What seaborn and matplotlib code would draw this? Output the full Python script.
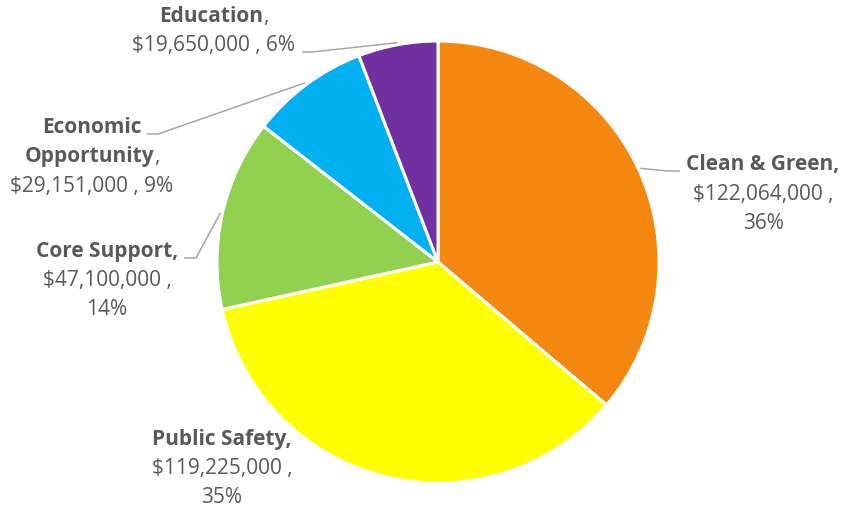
import matplotlib
matplotlib.use("Agg")
import matplotlib.pyplot as plt
import seaborn as sns
import numpy as np

# Budget by program area
categories = ["Clean & Green", "Public Safety", "Core Support",
              "Economic Opportunity", "Education"]
amounts = [122064000, 119225000, 47100000, 29151000, 19650000]
colors = ["#F4870F", "#FFFF00", "#92D050", "#00B0F0", "#7030A0"]

sns.set_theme(style="white")
plt.rcParams["font.family"] = ["Open Sans", "DejaVu Sans"]

W, H = 844, 509
TEXT = "#595959"
LEADER = "#A6A6A6"
FS = 15

fig = plt.figure(figsize=(W / 100, H / 100), dpi=100)
ax = fig.add_axes([0, 0, 1, 1])

cx, cy, R = 438, H - 262, 221
wedges, _ = ax.pie(amounts, colors=sns.color_palette(colors), startangle=90,
                   counterclock=False, center=(cx, cy), radius=R,
                   wedgeprops=dict(edgecolor="white", linewidth=2.2))
ax.set_xlim(0, W)
ax.set_ylim(0, H)
ax.set_aspect("equal")
ax.axis("off")

total = sum(amounts)
pct = [f"{round(v / total * 100):d}%" for v in amounts]
money = [f"${v:,}" for v in amounts]

# label lines: list of lines, each a list of (text, bold) segments
labels = {
    "Clean & Green": [[("Clean & Green,", True)],
                      [(money[0] + " ,", False)],
                      [(pct[0], False)]],
    "Public Safety": [[("Public Safety,", True)],
                      [(money[1] + " ,", False)],
                      [(pct[1], False)]],
    "Core Support": [[("Core Support,", True)],
                     [(money[2] + " ,", False)],
                     [(pct[2], False)]],
    "Economic Opportunity": [[("Economic", True)],
                             [("Opportunity", True), (",", False)],
                             [(money[3] + " , " + pct[3], False)]],
    "Education": [[("Education", True), (",", False)],
                  [(money[4] + " , " + pct[4], False)]],
}

# label placement (center x, baselines from top) and leader path
layout = {
    "Clean & Green": dict(x=763, base=[170, 200, 229],
                          path=[(680, 171), (668, 171)]),
    "Public Safety": dict(x=222, base=[445, 474, 503], path=None),
    "Core Support": dict(x=107, base=[257, 286, 315],
                         path=[(184, 258), (196, 258)]),
    "Economic Opportunity": dict(x=92, base=[133, 162, 192],
                                 path=[(147, 134), (158, 134)]),
    "Education": dict(x=214, base=[22, 51],
                      path=[(302, 52), (312, 52)]),
}

renderer = fig.canvas.get_renderer()


def draw_line(segments, xc, ybase):
    arts = []
    for s, bold in segments:
        t = ax.text(0, H - ybase, s, fontsize=FS, color=TEXT,
                    fontweight="bold" if bold else "normal",
                    ha="left", va="baseline")
        arts.append(t)
    widths = [a.get_window_extent(renderer).width for a in arts]
    x = xc - sum(widths) / 2
    for a, w in zip(arts, widths):
        a.set_x(x)
        x += w


for name, wedge in zip(categories, wedges):
    lay = layout[name]
    for line, yb in zip(labels[name], lay["base"]):
        draw_line(line, lay["x"], yb)
    if lay["path"]:
        mid = np.deg2rad((wedge.theta1 + wedge.theta2) / 2)
        ax_pt = (cx + (R + 2) * np.cos(mid), cy + (R + 2) * np.sin(mid))
        xs = [p[0] for p in lay["path"]] + [ax_pt[0]]
        ys = [H - p[1] for p in lay["path"]] + [ax_pt[1]]
        ax.plot(xs, ys, color=LEADER, lw=1.1, solid_capstyle="butt")

fig.savefig("out.png", dpi=100, facecolor="white")
